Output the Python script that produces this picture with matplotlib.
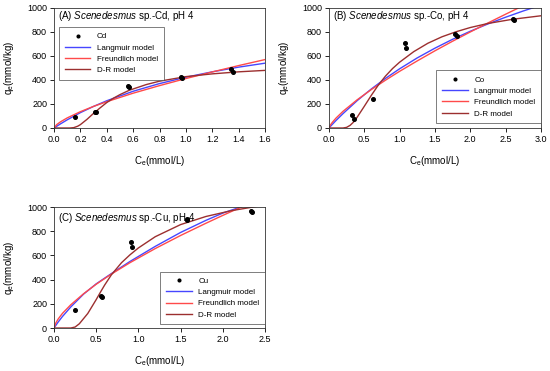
import matplotlib
matplotlib.use("Agg")
from matplotlib import pyplot as plt

plt.rcParams['font.family'] = ['Liberation Sans', 'DejaVu Sans']
plt.rcParams['mathtext.fontset'] = 'custom'
plt.rcParams['mathtext.rm'] = 'Liberation Sans'
plt.rcParams['mathtext.it'] = 'Liberation Sans:italic'

# ---- (A) Cd ----
cd_c = [0.16, 0.31, 0.32, 0.56, 0.57, 0.96, 0.97, 1.34, 1.36]
cd_q = [88, 135, 132, 350, 340, 425, 420, 490, 470]
cd_lang_c = [0, 0.05, 0.1, 0.2, 0.3, 0.4, 0.6, 0.8, 1.0, 1.2, 1.4, 1.6]
cd_lang_q = [0, 35, 68, 128, 180, 227, 306, 370, 423, 468, 507, 540]
cd_freu_c = [0, 0.02, 0.05, 0.1, 0.2, 0.3, 0.4, 0.6, 0.8, 1.0, 1.2, 1.4, 1.6]
cd_freu_q = [0, 28, 52, 84, 136, 180, 219, 290, 353, 412, 467, 520, 570]
cd_dr_c = [0, 0.12, 0.15, 0.18, 0.2, 0.25, 0.3, 0.35, 0.4, 0.45, 0.5, 0.57, 0.7, 0.8, 1.0, 1.2, 1.4, 1.6]
cd_dr_q = [0, 0, 3, 15, 28, 72, 122, 168, 212, 248, 278, 314, 362, 390, 428, 451, 468, 480]

# ---- (B) Co ----
co_c = [0.32, 0.35, 0.62, 1.07, 1.09, 1.79, 1.81, 2.61, 2.62]
co_q = [105, 75, 240, 705, 665, 780, 765, 910, 900]
co_lang_c = [0, 0.1, 0.2, 0.4, 0.6, 0.8, 1.0, 1.25, 1.5, 1.75, 2.0, 2.25, 2.5, 2.75, 2.9]
co_lang_q = [0, 62, 120, 228, 325, 413, 493, 584, 665, 739, 806, 867, 923, 975, 1004]
co_freu_c = [0, 0.02, 0.05, 0.1, 0.2, 0.4, 0.6, 0.8, 1.0, 1.25, 1.5, 1.75, 2.0, 2.25, 2.5, 2.7]
co_freu_q = [0, 24, 48, 82, 139, 235, 320, 398, 472, 559, 643, 723, 800, 875, 948, 1005]
co_dr_c = [0, 0.2, 0.25, 0.3, 0.35, 0.4, 0.5, 0.6, 0.7, 0.8, 0.9, 1.0, 1.2, 1.4, 1.6, 1.8, 2.0, 2.25, 2.6, 3.0]
co_dr_q = [0, 0, 5, 22, 50, 90, 180, 272, 358, 432, 495, 548, 636, 706, 760, 802, 837, 871, 906, 935]

# ---- (C) Cu ----
cu_c = [0.25, 0.56, 0.57, 0.91, 0.93, 1.57, 1.58, 2.33, 2.35]
cu_q = [150, 268, 260, 710, 670, 905, 895, 970, 960]
cu_lang_c = [0, 0.05, 0.1, 0.2, 0.35, 0.5, 0.68, 0.9, 1.2, 1.5, 1.8, 2.0, 2.25]
cu_lang_q = [0, 50, 95, 175, 280, 365, 450, 550, 675, 790, 890, 950, 1010]
cu_freu_c = [0, 0.02, 0.05, 0.1, 0.2, 0.35, 0.5, 0.68, 0.9, 1.2, 1.5, 1.8, 2.0, 2.25]
cu_freu_q = [0, 40, 75, 121, 193, 283, 362, 446, 540, 657, 765, 866, 931, 1010]
cu_dr_c = [0, 0.2, 0.25, 0.3, 0.4, 0.5, 0.56, 0.6, 0.68, 0.8, 0.9, 1.0, 1.2, 1.5, 1.8, 2.1, 2.4, 2.5]
cu_dr_q = [0, 0, 8, 35, 120, 235, 308, 355, 440, 540, 605, 662, 755, 855, 922, 970, 1005, 1015]

panels = [
    ("A", "Cd", [0.0982, 0.655, 0.3836, 0.3235], 1.6, 0.2, cd_c, cd_q,
     (cd_lang_c, cd_lang_q), (cd_freu_c, cd_freu_q), (cd_dr_c, cd_dr_q),
     dict(loc='upper left', bbox_to_anchor=(0.024, 0.84))),
    ("B", "Co", [0.598, 0.655, 0.3855, 0.3235], 3.0, 0.5, co_c, co_q,
     (co_lang_c, co_lang_q), (co_freu_c, co_freu_q), (co_dr_c, co_dr_q),
     dict(loc='lower right', bbox_to_anchor=(1.0, 0.04))),
    ("C", "Cu", [0.0982, 0.1159, 0.3836, 0.326], 2.5, 0.5, cu_c, cu_q,
     (cu_lang_c, cu_lang_q), (cu_freu_c, cu_freu_q), (cu_dr_c, cu_dr_q),
     dict(loc='lower right', bbox_to_anchor=(1.0, 0.03))),
]

blue = '#4646ff'
red = '#ff4a4a'
dr_col = '#9c2f2f'

fig = plt.figure(figsize=(5.5, 3.71), dpi=100)

for tag, metal, rect, xmax, xstep, xs, ys, lang, freu, dr, legkw in panels:
    ax = fig.add_axes(rect)
    ax.plot(xs, ys, 'o', color='black', markersize=2.6, label=metal, zorder=5)
    ax.plot(lang[0], lang[1], color=blue, lw=1.0, label='Langmuir model')
    ax.plot(freu[0], freu[1], color=red, lw=1.0, label='Freundlich model')
    ax.plot(dr[0], dr[1], color=dr_col, lw=1.0, label='D-R model')

    ax.set_xlim(0, xmax)
    ax.set_ylim(0, 1000)
    n = int(round(xmax / xstep))
    ax.set_xticks([i * xstep for i in range(n + 1)])
    ax.set_xticklabels(['%.1f' % (i * xstep) for i in range(n + 1)])
    ax.set_yticks([0, 200, 400, 600, 800, 1000])
    ax.tick_params(direction='out', length=3, width=0.6, labelsize=6.5, pad=2)
    for s in ax.spines.values():
        s.set_linewidth(0.6)
        s.set_color('#333333')

    ax.set_xlabel(r'C$_\mathregular{e}$(mmol/L)', fontsize=7, labelpad=7)
    ax.set_ylabel(r'q$_\mathregular{e}$(mmol/kg)', fontsize=7, labelpad=8)

    ty = 0.93 if tag != "C" else 0.91
    ax.text(0.018, ty, r'(%s) $\mathit{Scenedesmus}$ sp.-%s, pH 4' % (tag, metal),
            transform=ax.transAxes, fontsize=7, va='center', ha='left')

    leg = ax.legend(fontsize=5.8, frameon=True, fancybox=False, borderpad=0.7,
                    handlelength=3.2, handletextpad=0.8, labelspacing=0.45,
                    borderaxespad=0.0, markerscale=0.75, **legkw)
    leg.get_frame().set_edgecolor('#444444')
    leg.get_frame().set_linewidth(0.6)

fig.savefig('out.png', dpi=100)
